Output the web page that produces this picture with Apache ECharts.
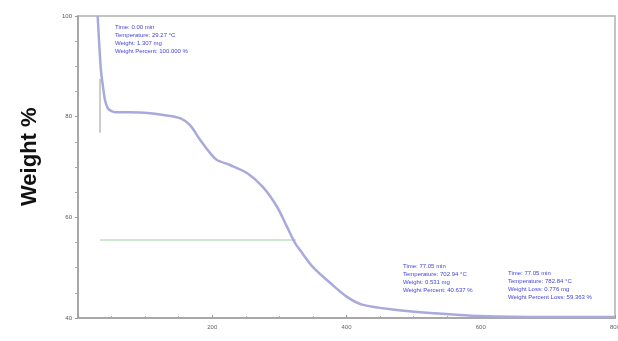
<!DOCTYPE html>
<html>
<head>
<meta charset="utf-8">
<script src="https://cdn.jsdelivr.net/npm/echarts@6/dist/echarts.min.js"></script>
<style>html,body{margin:0;padding:0;background:#fff}#c{width:618px;height:341px}</style>
</head>
<body>
<div id="c"></div>
<script>
// Temperature (°C) and Weight (%)
const temperature = [29.27, 31.3, 34.3, 37.2, 40.2, 44.7, 50.0, 55.1, 77.5, 107.3, 129.6, 152, 166.9, 181.8, 196.6, 207, 226.4, 251.8, 275.6, 296.5, 311.4, 323.3, 330.7, 350.1, 375.4, 400.7, 424.6, 475.2, 524.4, 598.9, 703.2, 798.5];
const weightPct   = [100.0, 95.2, 89.0, 86.0, 83.3, 81.6, 81.1, 80.9, 80.9, 80.7, 80.3, 79.7, 78.3, 75.4, 72.8, 71.4, 70.4, 68.8, 66.0, 62.1, 58.1, 54.9, 53.5, 50.1, 47.0, 44.2, 42.6, 41.6, 41.0, 40.4, 40.2, 40.2];
const cursorX = [32.8, 32.8];
const cursorY = [87.5, 76.8];
const stepX = [32.8, 324.8];
const stepY = [55.5, 55.5];
const xTicks = [0, 200, 400, 600, 800];
const yTicks = [40, 60, 80, 100];
const note1 = ["Time: 0.00 min", "Temperature: 29.27 °C", "Weight: 1.307 mg", "Weight Percent: 100.000 %"];
const note2 = ["Time: 77.05 min", "Temperature: 702.94 °C", "Weight: 0.531 mg", "Weight Percent: 40.637 %"];
const note3 = ["Time: 77.05 min", "Temperature: 782.84 °C", "Weight Loss: 0.776 mg", "Weight Percent Loss: 59.363 %"];

const chart = echarts.init(document.getElementById('c'));
const noteStyle = {fontSize: 6, fill: '#4444d8', fontFamily: 'Liberation Sans', lineHeight: 8};
chart.setOption({
  animation: false,
  grid: {left: 78, right: 3, top: 16, bottom: 23, show: true, borderColor: '#b0b0b0', borderWidth: 1.5,
         containLabel: false, outerBoundsMode: 'none'},
  xAxis: {
    type: 'value', min: 0, max: 800, interval: 200,
    axisLine: {show: true, lineStyle: {color: '#a8a8a8', width: 2}},
    axisTick: {show: true, inside: true, length: 3, lineStyle: {color: '#999'}},
    minorTick: {show: true, splitNumber: 4, length: 2, lineStyle: {color: '#aaa'}},
    splitLine: {show: false},
    axisLabel: {fontSize: 6, color: '#666', margin: 6, showMinLabel: false,
      formatter: v => xTicks.includes(v) ? String(v) : ''},
    name: 'Temperature (°C)', nameLocation: 'middle', nameGap: 23,
    nameTextStyle: {fontSize: 11, color: '#aaa'}
  },
  yAxis: {
    type: 'value', min: 40, max: 100, interval: 20,
    axisLine: {show: true, lineStyle: {color: '#a8a8a8', width: 2}},
    axisTick: {show: true, inside: false, length: 3, lineStyle: {color: '#999'}},
    minorTick: {show: true, splitNumber: 4, length: 3, lineStyle: {color: '#aaa'}},
    splitLine: {show: false},
    axisLabel: {fontSize: 6, color: '#555', margin: 6,
      formatter: v => yTicks.includes(v) ? String(v) : ''}
  },
  graphic: [
    {type: 'text', rotation: Math.PI / 2, position: [19, 206],
     style: {text: 'Weight %', fontSize: 22, fontWeight: 'bold', fill: '#111', fontFamily: 'Liberation Sans'}},
    {type: 'text', position: [115, 23], style: Object.assign({text: note1.join('\n')}, noteStyle)},
    {type: 'text', position: [403, 262], style: Object.assign({text: note2.join('\n')}, noteStyle)},
    {type: 'text', position: [508, 269], style: Object.assign({text: note3.join('\n')}, noteStyle)}
  ],
  series: [
    {type: 'line', data: temperature.map((t, i) => [t, weightPct[i]]), showSymbol: false,
     smooth: 0.3, lineStyle: {color: '#a9a9dc', width: 2.5}, z: 3},
    {type: 'line', data: cursorX.map((t, i) => [t, cursorY[i]]), showSymbol: false,
     lineStyle: {color: '#999', width: 1}, z: 2},
    {type: 'line', data: stepX.map((t, i) => [t, stepY[i]]), showSymbol: false,
     lineStyle: {color: '#9fcf9f', width: 1.2}, z: 2}
  ]
});
</script>
</body>
</html>
